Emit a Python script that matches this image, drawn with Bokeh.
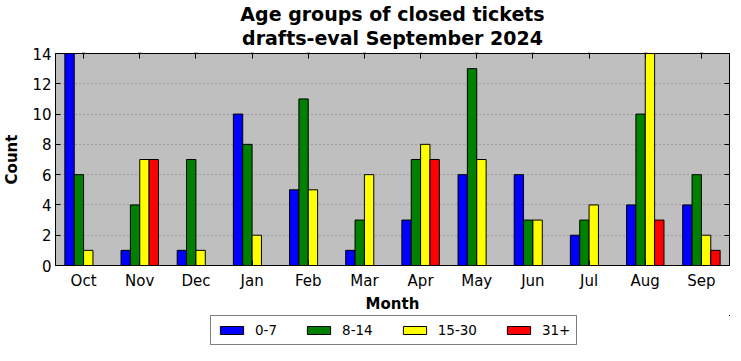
from bokeh.plotting import figure
from bokeh.layouts import column
from bokeh.models import (ColumnDataSource, FactorRange, Range1d, Legend, LegendItem,
                          Title, LinearAxis, CategoricalAxis, FixedTicker, CustomJSTickFormatter)
from bokeh.transform import dodge
from bokeh.embed import file_html
from bokeh.resources import INLINE

months = ["Oct", "Nov", "Dec", "Jan", "Feb", "Mar", "Apr", "May", "Jun", "Jul", "Aug", "Sep"]
age_0_7 = [14, 1, 1, 10, 5, 1, 3, 6, 6, 2, 4, 4]
age_8_14 = [6, 4, 7, 8, 11, 3, 7, 13, 3, 3, 10, 6]
age_15_30 = [1, 7, 1, 2, 5, 6, 8, 7, 3, 4, 14, 2]
age_31_plus = [0, 7, 0, 0, 0, 0, 7, 0, 0, 0, 3, 1]
groups = ["0-7", "8-14", "15-30", "31+"]
colors = ["#0000ff", "#008000", "#ffff00", "#ff0000"]
y_ticks = [0, 2, 4, 6, 8, 10, 12, 14]
title_lines = ["Age groups of closed tickets", "drafts-eval September 2024"]

FONT = "DejaVu Sans"
W = 733
cols = ["g0", "g1", "g2", "g3"]

source = ColumnDataSource(dict(month=months, g0=age_0_7, g1=age_8_14, g2=age_15_30, g3=age_31_plus))

p = figure(x_range=FactorRange(*months, range_padding=0), y_range=Range1d(0, 14),
           width=W, height=315, output_backend="svg", toolbar_location=None,
           min_border_left=48, min_border_right=0, min_border_top=45, min_border_bottom=40)
p.title.visible = False
p.background_fill_color = "#bfbfbf"
p.border_fill_color = "white"
p.outline_line_color = "black"
p.outline_line_width = 1

bw = 1 / 6
offsets = [-1.5 * bw, -0.5 * bw, 0.5 * bw, 1.5 * bw]
for i, (col, c) in enumerate(zip(cols, colors)):
    p.vbar(x=dodge("month", offsets[i], range=p.x_range), top=col, width=bw, bottom=0,
           source=source, fill_color=c, line_color="black", line_width=1)

for ax in [p.xaxis[0], p.yaxis[0]]:
    ax.major_tick_in = 5
    ax.major_tick_out = 0
    ax.minor_tick_in = 0
    ax.minor_tick_out = 0
    ax.axis_line_color = "black"
    ax.major_label_text_font = FONT
    ax.major_label_text_font_size = "15px"
    ax.major_label_text_color = "black"
    ax.axis_label_text_font = FONT
    ax.axis_label_text_font_size = "15px"
    ax.axis_label_text_font_style = "bold"
    ax.axis_label_text_color = "black"

p.yaxis.ticker = FixedTicker(ticks=y_ticks)
p.yaxis.axis_label = "Count"
p.yaxis.major_label_standoff = 4
p.yaxis.axis_label_standoff = 8
p.xaxis.axis_label = "Month"
p.xaxis.major_label_standoff = 6
p.xaxis.axis_label_standoff = 2

p.xgrid.grid_line_color = None
p.ygrid.ticker = FixedTicker(ticks=y_ticks)
p.ygrid.grid_line_color = "#7a7a7a"
p.ygrid.grid_line_dash = "1 3"
p.ygrid.grid_line_width = 1

# mirrored tick axes (top/right), blank labels
top_ax = CategoricalAxis(major_tick_in=5, major_tick_out=0, major_label_standoff=0,
                         major_label_overrides={m: " " for m in months},
                         major_label_text_font_size="2px", axis_line_color="black")
p.add_layout(top_ax, "above")
right_ax = LinearAxis(ticker=FixedTicker(ticks=y_ticks), major_tick_in=5, major_tick_out=0,
                      minor_tick_in=0, minor_tick_out=0, major_label_standoff=0,
                      major_label_text_font_size="2px",
                      formatter=CustomJSTickFormatter(code="return ' '"), axis_line_color="black")
p.add_layout(right_ax, "right")

# two title lines: the last one added sits on top
for line in reversed(title_lines):
    p.add_layout(Title(text=line, align="center", text_font=FONT, text_font_size="19px",
                       text_font_style="bold", text_color="black", standoff=0), "above")

# legend strip below the chart (swatch renderers are out of view)
p2 = figure(width=W, height=31, x_range=Range1d(-2, -1), y_range=Range1d(-2, -1),
            output_backend="svg", toolbar_location=None, min_border=0,
            x_axis_location=None, y_axis_location=None)
p2.title.visible = False
p2.grid.visible = False
p2.outline_line_color = None
p2.background_fill_color = "white"
leg_renderers = []
for col, c in zip(cols, colors):
    leg_renderers.append(p2.vbar(x=col, top=col, width=0.1, source=source, fill_color=c,
                                 line_color="black", line_width=1))

legend = Legend(items=[LegendItem(label=g, renderers=[r]) for g, r in zip(groups, leg_renderers)],
                orientation="horizontal", location=(155, 1),
                label_text_font=FONT, label_text_font_size="13.5px", label_text_color="black",
                glyph_width=29, glyph_height=10, label_standoff=9, spacing=27, padding=6,
                border_line_color="black", border_line_width=1, background_fill_color="white",
                margin=0)
p2.add_layout(legend, "center")

layout = column(p, p2, spacing=0)
open("out.html", "w").write(file_html(layout, INLINE))
